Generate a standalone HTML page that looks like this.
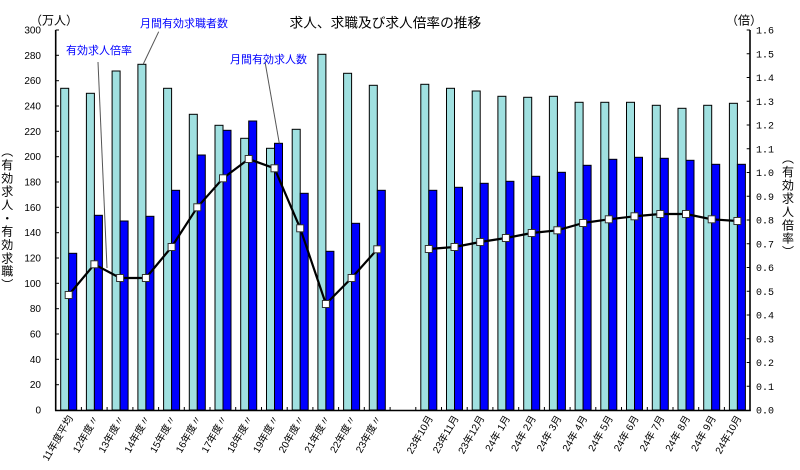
<!DOCTYPE html>
<html><head><meta charset="utf-8"><style>
html,body{margin:0;padding:0;background:#fff;}
#wrap{position:relative;width:800px;height:470px;overflow:hidden;background:#fff;}
svg{position:absolute;left:0;top:0;}
.vt{position:absolute;writing-mode:vertical-rl;font-family:"Liberation Sans","Noto Sans CJK JP",sans-serif;font-size:12px;line-height:12px;letter-spacing:1.35px;color:#000;white-space:nowrap;}
</style></head><body><div id="wrap">
<svg width="800" height="470" viewBox="0 0 800 470" xmlns="http://www.w3.org/2000/svg" font-family="'Liberation Sans','Noto Sans CJK JP',sans-serif">
<!-- cyan bars -->
<g fill="#a0e0e0" stroke="#000" stroke-width="1">
<rect x="60.7" y="88.3" width="8" height="321.7"/>
<rect x="86.4" y="93.3" width="8" height="316.7"/>
<rect x="112.1" y="71" width="8" height="339"/>
<rect x="137.9" y="64.3" width="8" height="345.7"/>
<rect x="163.6" y="88.3" width="8" height="321.7"/>
<rect x="189.3" y="114.3" width="8" height="295.7"/>
<rect x="215.0" y="125.3" width="8" height="284.7"/>
<rect x="240.7" y="138.3" width="8" height="271.7"/>
<rect x="266.5" y="148.3" width="8" height="261.7"/>
<rect x="292.2" y="129.3" width="8" height="280.7"/>
<rect x="317.9" y="54.3" width="8" height="355.7"/>
<rect x="343.6" y="73.3" width="8" height="336.7"/>
<rect x="369.3" y="85.3" width="8" height="324.7"/>
<rect x="420.8" y="84.3" width="8" height="325.7"/>
<rect x="446.5" y="88.3" width="8" height="321.7"/>
<rect x="472.2" y="91" width="8" height="319"/>
<rect x="497.9" y="96.3" width="8" height="313.7"/>
<rect x="523.7" y="97.3" width="8" height="312.7"/>
<rect x="549.4" y="96.3" width="8" height="313.7"/>
<rect x="575.1" y="102.3" width="8" height="307.7"/>
<rect x="600.8" y="102.3" width="8" height="307.7"/>
<rect x="626.5" y="102.3" width="8" height="307.7"/>
<rect x="652.3" y="105.3" width="8" height="304.7"/>
<rect x="678.0" y="108.3" width="8" height="301.7"/>
<rect x="703.7" y="105.3" width="8" height="304.7"/>
<rect x="729.4" y="103.3" width="8" height="306.7"/>
</g>
<!-- blue bars -->
<g fill="#0000ff" stroke="#000" stroke-width="1">
<rect x="68.7" y="253.3" width="8" height="156.7"/>
<rect x="94.4" y="215.3" width="8" height="194.7"/>
<rect x="120.1" y="221" width="8" height="189"/>
<rect x="145.9" y="216.3" width="8" height="193.7"/>
<rect x="171.6" y="190.3" width="8" height="219.7"/>
<rect x="197.3" y="155" width="8" height="255"/>
<rect x="223.0" y="130.3" width="8" height="279.7"/>
<rect x="248.7" y="121" width="8" height="289"/>
<rect x="274.5" y="143.3" width="8" height="266.7"/>
<rect x="300.2" y="193.3" width="8" height="216.7"/>
<rect x="325.9" y="251.3" width="8" height="158.7"/>
<rect x="351.6" y="223.3" width="8" height="186.7"/>
<rect x="377.3" y="190.3" width="8" height="219.7"/>
<rect x="428.8" y="190.3" width="8" height="219.7"/>
<rect x="454.5" y="187.3" width="8" height="222.7"/>
<rect x="480.2" y="183.3" width="8" height="226.7"/>
<rect x="505.9" y="181.3" width="8" height="228.7"/>
<rect x="531.7" y="176.3" width="8" height="233.7"/>
<rect x="557.4" y="172.3" width="8" height="237.7"/>
<rect x="583.1" y="165.3" width="8" height="244.7"/>
<rect x="608.8" y="159.3" width="8" height="250.7"/>
<rect x="634.5" y="157.3" width="8" height="252.7"/>
<rect x="660.3" y="158.3" width="8" height="251.7"/>
<rect x="686.0" y="160.3" width="8" height="249.7"/>
<rect x="711.7" y="164.3" width="8" height="245.7"/>
<rect x="737.4" y="164.3" width="8" height="245.7"/>
</g>
<!-- axes -->
<g stroke="#000" stroke-width="1.6" fill="none">
<line x1="55.7" y1="30" x2="55.7" y2="410.8"/>
<line x1="750" y1="30" x2="750" y2="410.8"/>
<line x1="55" y1="410.5" x2="750.8" y2="410.5"/>
</g>
<g stroke="#000" stroke-width="1">
<!-- left ticks -->
<line x1="55.7" y1="30" x2="59" y2="30"/><line x1="55.7" y1="55.3" x2="59" y2="55.3"/><line x1="55.7" y1="80.7" x2="59" y2="80.7"/><line x1="55.7" y1="106" x2="59" y2="106"/><line x1="55.7" y1="131.3" x2="59" y2="131.3"/><line x1="55.7" y1="156.7" x2="59" y2="156.7"/><line x1="55.7" y1="182" x2="59" y2="182"/><line x1="55.7" y1="207.3" x2="59" y2="207.3"/><line x1="55.7" y1="232.7" x2="59" y2="232.7"/><line x1="55.7" y1="258" x2="59" y2="258"/><line x1="55.7" y1="283.3" x2="59" y2="283.3"/><line x1="55.7" y1="308.7" x2="59" y2="308.7"/><line x1="55.7" y1="334" x2="59" y2="334"/><line x1="55.7" y1="359.3" x2="59" y2="359.3"/><line x1="55.7" y1="384.7" x2="59" y2="384.7"/>
<!-- right ticks -->
<line x1="746.7" y1="30" x2="750" y2="30"/><line x1="746.7" y1="53.75" x2="750" y2="53.75"/><line x1="746.7" y1="77.5" x2="750" y2="77.5"/><line x1="746.7" y1="101.25" x2="750" y2="101.25"/><line x1="746.7" y1="125" x2="750" y2="125"/><line x1="746.7" y1="148.75" x2="750" y2="148.75"/><line x1="746.7" y1="172.5" x2="750" y2="172.5"/><line x1="746.7" y1="196.25" x2="750" y2="196.25"/><line x1="746.7" y1="220" x2="750" y2="220"/><line x1="746.7" y1="243.75" x2="750" y2="243.75"/><line x1="746.7" y1="267.5" x2="750" y2="267.5"/><line x1="746.7" y1="291.25" x2="750" y2="291.25"/><line x1="746.7" y1="315" x2="750" y2="315"/><line x1="746.7" y1="338.75" x2="750" y2="338.75"/><line x1="746.7" y1="362.5" x2="750" y2="362.5"/><line x1="746.7" y1="386.25" x2="750" y2="386.25"/>
<!-- bottom ticks -->
<line x1="81.4" y1="407" x2="81.4" y2="410"/><line x1="107.1" y1="407" x2="107.1" y2="410"/><line x1="132.9" y1="407" x2="132.9" y2="410"/><line x1="158.6" y1="407" x2="158.6" y2="410"/><line x1="184.3" y1="407" x2="184.3" y2="410"/><line x1="210.0" y1="407" x2="210.0" y2="410"/><line x1="235.7" y1="407" x2="235.7" y2="410"/><line x1="261.5" y1="407" x2="261.5" y2="410"/><line x1="287.2" y1="407" x2="287.2" y2="410"/><line x1="312.9" y1="407" x2="312.9" y2="410"/><line x1="338.6" y1="407" x2="338.6" y2="410"/><line x1="364.3" y1="407" x2="364.3" y2="410"/><line x1="390.1" y1="407" x2="390.1" y2="410"/><line x1="415.8" y1="407" x2="415.8" y2="410"/><line x1="441.5" y1="407" x2="441.5" y2="410"/><line x1="467.2" y1="407" x2="467.2" y2="410"/><line x1="492.9" y1="407" x2="492.9" y2="410"/><line x1="518.7" y1="407" x2="518.7" y2="410"/><line x1="544.4" y1="407" x2="544.4" y2="410"/><line x1="570.1" y1="407" x2="570.1" y2="410"/><line x1="595.8" y1="407" x2="595.8" y2="410"/><line x1="621.5" y1="407" x2="621.5" y2="410"/><line x1="647.3" y1="407" x2="647.3" y2="410"/><line x1="673.0" y1="407" x2="673.0" y2="410"/><line x1="698.7" y1="407" x2="698.7" y2="410"/><line x1="724.4" y1="407" x2="724.4" y2="410"/>
</g>
<!-- ratio line -->
<g fill="none" stroke="#000" stroke-width="2.2" stroke-linejoin="round">
<polyline points="68.7,295 94.4,264.3 120.1,278 145.9,278 171.6,247 197.3,207.3 223.0,178.3 248.7,159 274.5,168.3 300.2,228.3 325.9,304 351.6,278 377.3,249.3"/>
<polyline points="428.8,249 454.5,247 480.2,242 505.9,238 531.7,233 557.4,230.3 583.1,223 608.8,219.3 634.5,216.3 660.3,214 686.0,214 711.7,219.3 737.4,221"/>
</g>
<g fill="#fff" stroke="#333" stroke-width="1">
<rect x="65.2" y="291.5" width="7" height="7"/><rect x="90.9" y="260.8" width="7" height="7"/><rect x="116.6" y="274.5" width="7" height="7"/><rect x="142.4" y="274.5" width="7" height="7"/><rect x="168.1" y="243.5" width="7" height="7"/><rect x="193.8" y="203.8" width="7" height="7"/><rect x="219.5" y="174.8" width="7" height="7"/><rect x="245.2" y="155.5" width="7" height="7"/><rect x="271.0" y="164.8" width="7" height="7"/><rect x="296.7" y="224.8" width="7" height="7"/><rect x="322.4" y="300.5" width="7" height="7"/><rect x="348.1" y="274.5" width="7" height="7"/><rect x="373.8" y="245.8" width="7" height="7"/>
<rect x="425.3" y="245.5" width="7" height="7"/><rect x="451.0" y="243.5" width="7" height="7"/><rect x="476.7" y="238.5" width="7" height="7"/><rect x="502.4" y="234.5" width="7" height="7"/><rect x="528.2" y="229.5" width="7" height="7"/><rect x="553.9" y="226.8" width="7" height="7"/><rect x="579.6" y="219.5" width="7" height="7"/><rect x="605.3" y="215.8" width="7" height="7"/><rect x="631.0" y="212.8" width="7" height="7"/><rect x="656.8" y="210.5" width="7" height="7"/><rect x="682.5" y="210.5" width="7" height="7"/><rect x="708.2" y="215.8" width="7" height="7"/><rect x="733.9" y="217.5" width="7" height="7"/>
</g>
<!-- leader lines -->
<g stroke="#555" stroke-width="1">
<line x1="98" y1="62" x2="107" y2="268"/>
<line x1="158.7" y1="31.7" x2="143.3" y2="64"/>
<line x1="265" y1="61.7" x2="279.3" y2="143.3"/>
</g>
<!-- annotations -->
<g fill="#0000ff" font-size="11">
<text x="66" y="54">有効求人倍率</text>
<text x="140" y="27">月間有効求職者数</text>
<text x="230" y="63">月間有効求人数</text>
</g>
<!-- title -->
<text x="289.5" y="27.5" font-size="13.7" fill="#000">求人、求職及び求人倍率の推移</text>
<text x="30" y="24.6" font-size="12" fill="#000">（万人）</text>
<text x="726" y="24.6" font-size="12" fill="#000">（倍）</text>
<!-- left labels -->
<g font-size="10" text-anchor="end" fill="#000">
<text x="41" y="33.5">300</text><text x="41" y="58.8">280</text><text x="41" y="84.2">260</text><text x="41" y="109.5">240</text><text x="41" y="134.8">220</text><text x="41" y="160.2">200</text><text x="41" y="185.5">180</text><text x="41" y="210.8">160</text><text x="41" y="236.2">140</text><text x="41" y="261.5">120</text><text x="41" y="286.8">100</text><text x="41" y="312.2">80</text><text x="41" y="337.5">60</text><text x="41" y="362.8">40</text><text x="41" y="388.2">20</text><text x="41" y="413.5">0</text>
</g>
<!-- right labels -->
<g font-size="10" font-family="'Liberation Mono',monospace" fill="#000">
<text x="756" y="33.5">1.6</text><text x="756" y="57.3">1.5</text><text x="756" y="81">1.4</text><text x="756" y="104.8">1.3</text><text x="756" y="128.5">1.2</text><text x="756" y="152.3">1.1</text><text x="756" y="176">1.0</text><text x="756" y="199.8">0.9</text><text x="756" y="223.5">0.8</text><text x="756" y="247.3">0.7</text><text x="756" y="271">0.6</text><text x="756" y="294.8">0.5</text><text x="756" y="318.5">0.4</text><text x="756" y="342.3">0.3</text><text x="756" y="366">0.2</text><text x="756" y="389.8">0.1</text><text x="756" y="413.5">0.0</text>
</g>
<!-- x labels -->
<g font-size="10" text-anchor="end" fill="#000">
<text transform="translate(73.2,418) rotate(-60)">11年度平均</text>
<text transform="translate(98.9,418) rotate(-60)">12年度〃</text>
<text transform="translate(124.6,418) rotate(-60)">13年度〃</text>
<text transform="translate(150.4,418) rotate(-60)">14年度〃</text>
<text transform="translate(176.1,418) rotate(-60)">15年度〃</text>
<text transform="translate(201.8,418) rotate(-60)">16年度〃</text>
<text transform="translate(227.5,418) rotate(-60)">17年度〃</text>
<text transform="translate(253.2,418) rotate(-60)">18年度〃</text>
<text transform="translate(279.0,418) rotate(-60)">19年度〃</text>
<text transform="translate(304.7,418) rotate(-60)">20年度〃</text>
<text transform="translate(330.4,418) rotate(-60)">21年度〃</text>
<text transform="translate(356.1,418) rotate(-60)">22年度〃</text>
<text transform="translate(381.8,418) rotate(-60)">23年度〃</text>
<text transform="translate(433.3,418) rotate(-60)">23年10月</text>
<text transform="translate(459.0,418) rotate(-60)">23年11月</text>
<text transform="translate(484.7,418) rotate(-60)">23年12月</text>
<text transform="translate(510.4,418) rotate(-60)">24年 1月</text>
<text transform="translate(536.2,418) rotate(-60)">24年 2月</text>
<text transform="translate(561.9,418) rotate(-60)">24年 3月</text>
<text transform="translate(587.6,418) rotate(-60)">24年 4月</text>
<text transform="translate(613.3,418) rotate(-60)">24年 5月</text>
<text transform="translate(639.0,418) rotate(-60)">24年 6月</text>
<text transform="translate(664.8,418) rotate(-60)">24年 7月</text>
<text transform="translate(690.5,418) rotate(-60)">24年 8月</text>
<text transform="translate(716.2,418) rotate(-60)">24年 9月</text>
<text transform="translate(741.9,418) rotate(-60)">24年10月</text>
</g>
</svg>
<div class="vt" style="left:0.7px;top:145px;">（有効求人・有効求職）</div>
<div class="vt" style="left:781.5px;top:152px;">（有効求人倍率）</div>
</div></body></html>
